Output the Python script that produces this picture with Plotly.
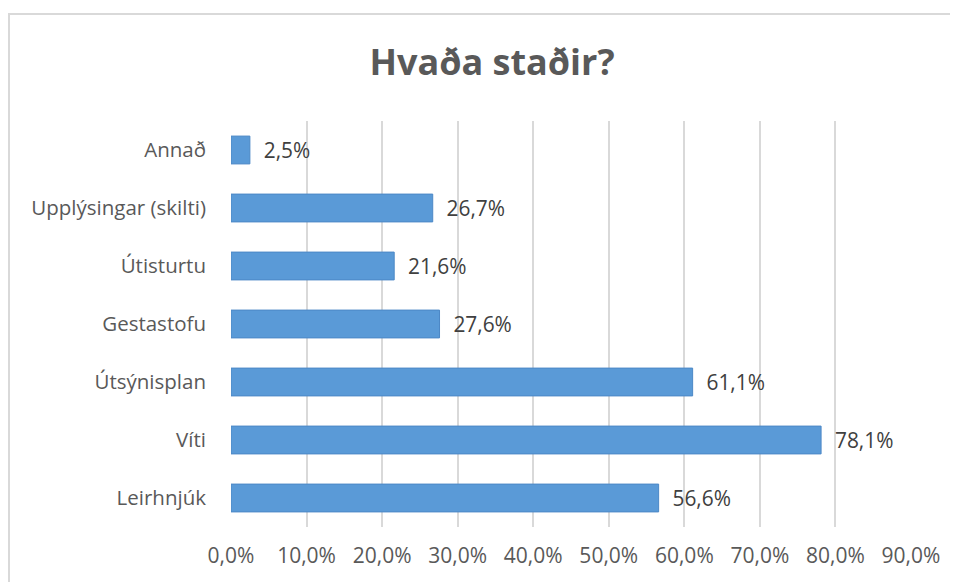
import plotly.graph_objects as go

categories = ["Leirhnjúk", "Víti", "Útsýnisplan", "Gestastofu", "Útisturtu", "Upplýsingar (skilti)", "Annað"]
values = [56.6, 78.1, 61.1, 27.6, 21.6, 26.7, 2.5]
tick_values = [0, 10, 20, 30, 40, 50, 60, 70, 80, 90]
tick_labels = [f"{v:.1f}%".replace(".", ",") for v in tick_values]
title_text = "Hvaða staðir?"

FONT = "Open Sans"

# the page body adds an 8px margin, so the figure is sized to fill the rest of the window
W, H = 950, 574
L, R, T, B = 223, 47, 113, 55
PW, PH = W - L - R, H - T - B

fig = go.Figure()
fig.add_trace(go.Bar(
    y=categories,
    x=values,
    orientation="h",
    width=0.48,
    marker=dict(color="#5A9AD7", line=dict(color="#4C88C6", width=1)),
    texttemplate="  %{x:.1f}%",
    textposition="outside",
    textfont=dict(family=FONT, size=21, color="#404040"),
    cliponaxis=False,
    hoverinfo="skip",
))

fig.update_layout(
    width=W,
    height=H,
    separators=",.",
    paper_bgcolor="white",
    plot_bgcolor="white",
    margin=dict(l=L, r=R, t=T, b=B),
    showlegend=False,
    title=dict(
        text="<b>" + title_text + "</b>",
        x=(492 - 8) / W,
        xanchor="center",
        y=1 - (62 - 8) / H,
        yanchor="middle",
        font=dict(family=FONT, size=36, color="#595959"),
    ),
    xaxis=dict(
        range=[0, 90],
        tickmode="array",
        tickvals=tick_values,
        ticktext=tick_labels,
        showgrid=True,
        gridcolor="#D9D9D9",
        gridwidth=1.5,
        zeroline=False,
        showline=False,
        ticks="",
        ticklabelstandoff=14,
        tickfont=dict(family=FONT, size=21, color="#595959"),
        fixedrange=True,
    ),
    yaxis=dict(
        categoryorder="array",
        categoryarray=categories,
        showgrid=False,
        showline=False,
        ticks="",
        ticklabelstandoff=24,
        tickfont=dict(family=FONT, size=20.5, color="#595959"),
        fixedrange=True,
    ),
    shapes=[
        dict(type="rect", xref="paper", yref="paper",
             x0=-(L - 1) / PW, x1=1.2, y0=-0.3, y1=1 + (T - 6) / PH,
             line=dict(color="#D9D9D9", width=2), fillcolor="rgba(0,0,0,0)", layer="below"),
    ],
)

fig.write_html("out.html")
